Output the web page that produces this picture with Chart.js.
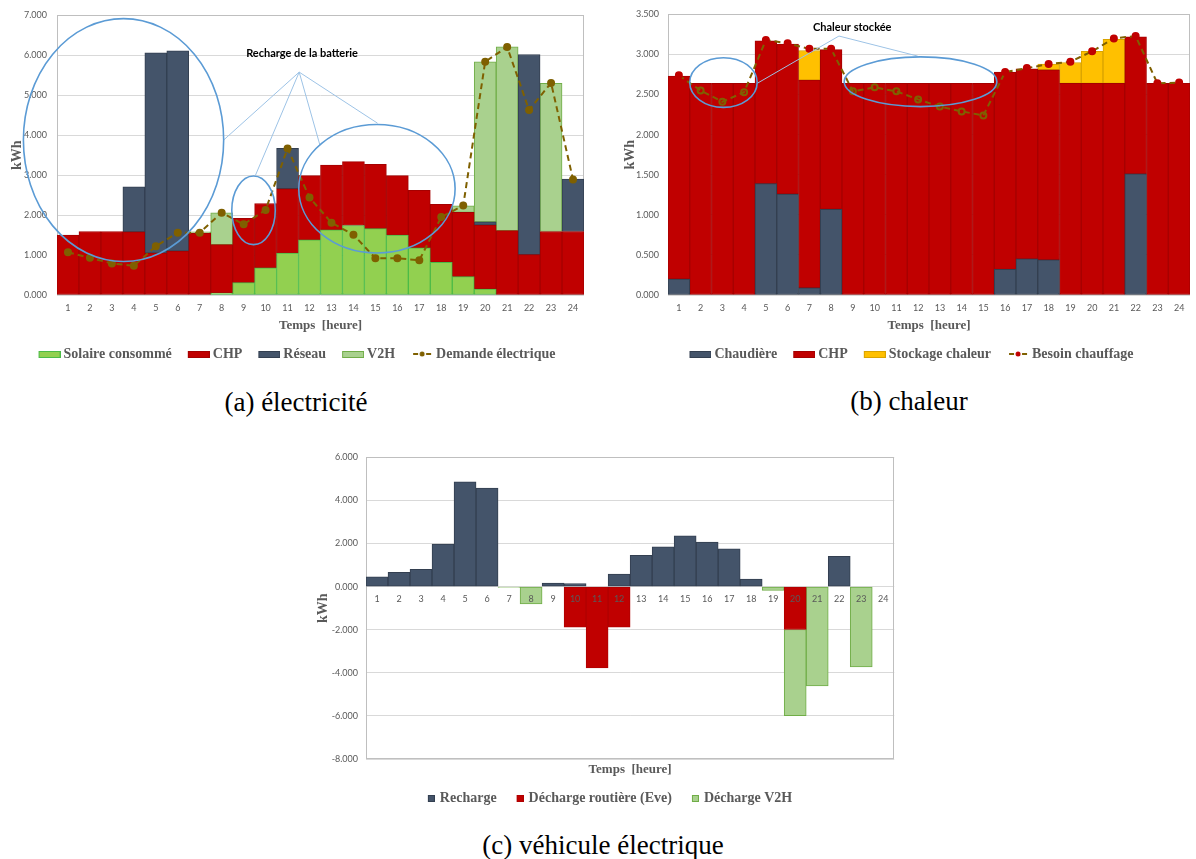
<!DOCTYPE html>
<html>
<head>
<meta charset="utf-8">
<title>Bilans horaires</title>
<script src="https://cdn.jsdelivr.net/npm/chart.js@4.4.1/dist/chart.umd.min.js"></script>
<style>
	body { margin: 0; background: #fff; }
	#page { position: relative; width: 1196px; height: 859px; overflow: hidden; }
	.frame { position: absolute; }
	.caption { position: absolute; width: 400px; text-align: center; font-family: "Liberation Serif", serif; font-size: 27px; line-height: 30px; color: #000; white-space: nowrap; }
</style>
</head>
<body>
<div id="page">
	<div class="frame" style="left:0;top:0;width:590px;height:371px"><canvas id="chartElec"></canvas></div>
	<div class="frame" style="left:622px;top:0;width:574px;height:371px"><canvas id="chartHeat"></canvas></div>
	<div class="frame" style="left:315px;top:444px;width:581px;height:371px"><canvas id="chartEv"></canvas></div>
	<div class="caption" style="left:96px;top:387px">(a) électricité</div>
	<div class="caption" style="left:709px;top:386px">(b) chaleur</div>
	<div class="caption" style="left:403px;top:830px">(c) véhicule électrique</div>
</div>
<script>
var hours = ['1','2','3','4','5','6','7','8','9','10','11','12','13','14','15','16','17','18','19','20','21','22','23','24'];

// (a) électricité, kWh
var solaireConsomme = [null,null,null,null,null,null,null,0.05,0.31,0.68,1.05,1.38,1.63,1.74,1.66,1.50,1.18,0.82,0.46,0.15,null,null,null,null];
var chpElec = [1.50,1.59,1.59,1.58,1.05,1.10,1.55,1.21,1.61,1.61,1.61,1.61,1.62,1.60,1.61,1.49,1.44,1.45,1.61,1.60,1.61,1.01,1.59,1.59];
var reseau = [null,null,null,1.13,5.01,5.01,null,null,null,null,1.01,null,null,null,null,null,null,null,null,0.08,null,5.01,null,1.31];
var v2hElec = [null,null,null,null,null,null,0.03,0.80,null,null,null,null,null,null,null,null,null,null,0.16,4.01,4.60,null,3.71,null];
var demandeElec = [1.07,0.93,0.79,0.73,1.22,1.56,1.56,2.06,1.77,2.13,3.67,2.44,1.81,1.51,0.92,0.92,0.87,1.95,2.24,5.84,6.21,4.63,5.31,2.89];

// (b) chaleur, kWh
var chaudiere = [0.20,null,null,null,1.39,1.26,0.09,1.07,null,null,null,null,null,null,null,0.32,0.45,0.44,null,null,null,1.51,null,null];
var chpChaleur = [2.53,2.64,2.64,2.64,1.78,1.87,2.59,1.99,2.64,2.64,2.64,2.64,2.64,2.64,2.64,2.46,2.37,2.37,2.64,2.64,2.64,1.71,2.64,2.64];
var stockageChaleur = [null,null,null,null,null,null,0.37,null,null,null,null,null,null,null,null,null,null,0.07,0.26,0.40,0.55,null,null,null];
var besoinChauffage = [2.74,2.55,2.41,2.53,3.18,3.14,3.07,3.07,2.54,2.59,2.54,2.44,2.35,2.29,2.24,2.78,2.83,2.88,2.91,3.04,3.20,3.23,2.64,2.65];

// (c) véhicule électrique, kWh
var recharge = [0.46,0.67,0.80,1.98,4.87,4.58,null,null,0.17,0.14,null,0.58,1.45,1.85,2.36,2.07,1.76,0.35,null,null,null,1.41,null,null];
var dechargeRoutiere = [null,null,null,null,null,null,null,null,null,-1.88,-3.77,-1.88,null,null,null,null,null,null,null,-1.99,null,null,null,null];
var dechargeV2H = [null,null,null,null,null,null,-0.03,-0.80,null,null,null,null,null,null,null,null,null,null,-0.18,-4.00,-4.61,null,-3.72,null];

// annotations, in axis units (category index, kWh)
var noteElec = {
	text: 'Recharge de la batterie', label: [10.66, 6.04], apex: [10.53, 5.58],
	ends: [[7.09, 3.88], [8.54, 3.00], [11.47, 3.76], [14.10, 4.30]],
	ellipses: [[2.53, 3.88, 4.56, 3.04], [8.45, 2.12, 0.99, 0.86], [14.07, 2.66, 3.56, 1.61]]
};
var noteHeat = {
	text: 'Chaleur stockée', label: [7.97, 3.34], apex: [7.36, 3.23],
	ends: [[3.60, 2.64], [10.98, 2.98]],
	ellipses: [[2.05, 2.65, 1.55, 0.31], [11.11, 2.66, 3.51, 0.31]]
};

var grey = '#595959';
var serifBold = {family: 'Liberation Serif', size: 14, weight: 'bold'};

Chart.defaults.font.family = 'Lato';
Chart.defaults.animation = false;
Chart.defaults.plugins.tooltip.enabled = false;

function swatch(kind, fill, stroke, boxW, imgW){
	var c = document.createElement('canvas');
	var h = 10;
	c.width = imgW; c.height = h;
	var g = c.getContext('2d');
	var x0 = imgW - boxW;
	if(kind == 'line'){
		g.strokeStyle = stroke; g.lineWidth = 2;
		g.beginPath();
		g.moveTo(x0+2, h/2); g.lineTo(x0+7, h/2);
		g.moveTo(x0+boxW-7, h/2); g.lineTo(x0+boxW-2, h/2);
		g.stroke();
		g.fillStyle = fill;
		g.beginPath(); g.arc(x0+boxW/2, h/2, 2.5, 0, Math.PI*2); g.fill();
	} else {
		var bh = kind == 'square' ? boxW : 7;
		var y0 = Math.round((h-bh)/2);
		g.fillStyle = fill; g.fillRect(x0, y0, boxW, bh);
		g.strokeStyle = stroke; g.lineWidth = 1; g.strokeRect(x0+0.5, y0+0.5, boxW-1, bh-1);
	}
	return c;
}

function legendOptions(items, boxWidth){
	return {
		position: 'bottom',
		labels: {
			usePointStyle: true, pointStyleWidth: boxWidth, boxHeight: 8, padding: 10,
			color: grey, font: serifBold,
			generateLabels: function(){
				return items.map(function(it, i){
					return {text: it[0], pointStyle: it[1], fontColor: grey, datasetIndex: i, hidden: false, lineWidth: 0};
				});
			}
		}
	};
}

function yAxis(min, max, step, width, pad, titlePad){
	return {
		min: min, max: max, stacked: true,
		ticks: {stepSize: step, padding: pad, color: grey, font: {size: 9}, callback: function(v){ return v.toFixed(3); }},
		grid: {color: '#D9D9D9', drawTicks: false},
		border: {display: false},
		title: {display: true, text: 'kWh', color: grey, font: serifBold, padding: {top: titlePad, bottom: 0}},
		afterFit: function(s){ s.width = width; }
	};
}

function timeTitle(bottomPad){
	return {display: true, text: 'Temps  [heure]', color: grey, font: {family: 'Liberation Serif', size: 13, weight: 'bold'}, padding: {top: 0, bottom: bottomPad}};
}

var plotFrame = {
	id: 'plotFrame',
	beforeDatasetsDraw: function(chart){
		var a = chart.chartArea, ctx = chart.ctx;
		ctx.save();
		ctx.strokeStyle = '#BFBFBF'; ctx.lineWidth = 1;
		ctx.strokeRect(Math.round(a.left)+0.5, Math.round(a.top)+0.5, Math.round(a.right-a.left)-1, Math.round(a.bottom-a.top)-1);
		ctx.restore();
	}
};

function calloutPlugin(note){
	return {
		id: 'callouts',
		afterDatasetsDraw: function(chart){
			var xs = chart.scales.x, ys = chart.scales.y, ctx = chart.ctx;
			ctx.save();
			ctx.strokeStyle = '#9DC3E6'; ctx.lineWidth = 1;
			var ax = xs.getPixelForValue(note.apex[0]), ay = ys.getPixelForValue(note.apex[1]);
			note.ends.forEach(function(e){
				ctx.beginPath(); ctx.moveTo(ax, ay);
				ctx.lineTo(xs.getPixelForValue(e[0]), ys.getPixelForValue(e[1]));
				ctx.stroke();
			});
			ctx.strokeStyle = '#5B9BD5'; ctx.lineWidth = 1.6;
			note.ellipses.forEach(function(e){
				var cx = xs.getPixelForValue(e[0]), cy = ys.getPixelForValue(e[1]);
				var rx = Math.abs(xs.getPixelForValue(e[0]+e[2]) - cx);
				var ry = Math.abs(ys.getPixelForValue(e[1]+e[3]) - cy);
				ctx.beginPath(); ctx.ellipse(cx, cy, rx, ry, 0, 0, Math.PI*2); ctx.stroke();
			});
			ctx.fillStyle = '#000'; ctx.font = 'bold 11px Lato';
			ctx.textAlign = 'center'; ctx.textBaseline = 'middle';
			ctx.fillText(note.text, xs.getPixelForValue(note.label[0]), ys.getPixelForValue(note.label[1]));
			ctx.restore();
		}
	};
}

var barDefaults = {categoryPercentage: 1, barPercentage: 1, borderWidth: 1, borderSkipped: false};

function bar(label, data, fill, stroke){
	return {type: 'bar', label: label, data: data, backgroundColor: fill, borderColor: stroke, stack: 'supply', order: 1};
}

function xHours(){
	return {
		stacked: true,
		grid: {display: false, drawTicks: false}, border: {display: false},
		ticks: {color: grey, font: {size: 9}, padding: 7.5, autoSkip: false, maxRotation: 0},
		title: timeTitle(4),
		afterFit: function(s){ s.height = 42; }
	};
}

// (a) électricité
new Chart(document.getElementById('chartElec'), {
	data: {
		labels: hours,
		datasets: [
			{type: 'line', label: 'Demande électrique', data: demandeElec, borderColor: '#7F6000', borderWidth: 2, borderDash: [6, 4],
				pointRadius: 3, pointBackgroundColor: '#7F6000', pointBorderColor: '#7F6000', stack: 'demand', order: 0, tension: 0},
			bar('Solaire consommé', solaireConsomme, '#92D050', '#4CBB47'),
			bar('CHP', chpElec, '#C00000', '#A50000'),
			bar('Réseau', reseau, '#44546A', '#333F50'),
			bar('V2H', v2hElec, '#A9D18E', '#70AD47')
		]
	},
	options: {
		responsive: true, maintainAspectRatio: false,
		layout: {padding: {top: 10, right: 2, left: 0, bottom: 0}},
		datasets: {bar: barDefaults},
		scales: {x: xHours(), y: yAxis(0, 7, 1, 57, 10, 8.5)},
		plugins: {
			legend: legendOptions([
				['Solaire consommé', swatch('box', '#92D050', '#4CBB47', 22, 32)],
				['CHP', swatch('box', '#C00000', '#A50000', 22, 32)],
				['Réseau', swatch('box', '#44546A', '#333F50', 22, 32)],
				['V2H', swatch('box', '#A9D18E', '#70AD47', 22, 32)],
				['Demande électrique', swatch('line', '#7F6000', '#7F6000', 22, 32)]
			], 24)
		}
	},
	plugins: [plotFrame, calloutPlugin(noteElec)]
});

// (b) chaleur
new Chart(document.getElementById('chartHeat'), {
	data: {
		labels: hours,
		datasets: [
			{type: 'line', label: 'Besoin chauffage', data: besoinChauffage, borderColor: '#7F6000', borderWidth: 2, borderDash: [6, 4],
				pointRadius: 3, stack: 'demand', order: 0, tension: 0,
				pointBackgroundColor: function(c){
					var i = c.dataIndex;
					var supply = (chaudiere[i] || 0) + (chpChaleur[i] || 0) + (stockageChaleur[i] || 0);
					return besoinChauffage[i] < supply - 0.03 ? 'rgba(0,0,0,0)' : '#C00000';
				},
				pointBorderColor: function(c){
					var i = c.dataIndex;
					var supply = (chaudiere[i] || 0) + (chpChaleur[i] || 0) + (stockageChaleur[i] || 0);
					return besoinChauffage[i] < supply - 0.03 ? '#7F6000' : '#C00000';
				}},
			bar('Chaudière', chaudiere, '#44546A', '#333F50'),
			bar('CHP', chpChaleur, '#C00000', '#A50000'),
			bar('Stockage chaleur', stockageChaleur, '#FFC000', '#D9A300')
		]
	},
	options: {
		responsive: true, maintainAspectRatio: false,
		layout: {padding: {top: 10, right: 1, left: 0, bottom: 0}},
		datasets: {bar: barDefaults},
		scales: {x: xHours(), y: yAxis(0, 3.5, 0.5, 46, 9, 0)},
		plugins: {
			legend: legendOptions([
				['Chaudière', swatch('box', '#44546A', '#333F50', 22, 32)],
				['CHP', swatch('box', '#C00000', '#A50000', 22, 32)],
				['Stockage chaleur', swatch('box', '#FFC000', '#D9A300', 22, 32)],
				['Besoin chauffage', swatch('line', '#C00000', '#7F6000', 22, 32)]
			], 24)
		}
	},
	plugins: [plotFrame, calloutPlugin(noteHeat)]
});

// (c) véhicule électrique
new Chart(document.getElementById('chartEv'), {
	type: 'bar',
	data: {
		labels: hours,
		datasets: [
			{label: 'Recharge', data: recharge, backgroundColor: '#44546A', borderColor: '#333F50'},
			{label: 'Décharge routière (Eve)', data: dechargeRoutiere, backgroundColor: '#C00000', borderColor: '#B00000'},
			{label: 'Décharge V2H', data: dechargeV2H, backgroundColor: '#A9D18E', borderColor: '#70AD47'}
		]
	},
	options: {
		responsive: true, maintainAspectRatio: false,
		layout: {padding: {top: 10, right: 1, left: 0, bottom: 0}},
		datasets: {bar: barDefaults},
		scales: {
			x: {
				position: {y: 0}, stacked: true, z: 1,
				grid: {display: false, drawTicks: false}, border: {display: false},
				ticks: {z: 1, color: grey, font: {size: 9}, padding: 7.5, autoSkip: false, maxRotation: 0},
				afterFit: function(s){ s.height = 0; }
			},
			x2: {
				type: 'category', labels: hours, position: 'bottom',
				grid: {display: false, drawTicks: false}, border: {display: false}, ticks: {display: false},
				title: timeTitle(3.5),
				afterFit: function(s){ s.height = 22; }
			},
			y: yAxis(-8, 6, 2, 51, 8, 0)
		},
		plugins: {
			legend: legendOptions([
				['Recharge', swatch('square', '#44546A', '#333F50', 7, 19)],
				['Décharge routière (Eve)', swatch('square', '#C00000', '#B00000', 7, 19)],
				['Décharge V2H', swatch('square', '#A9D18E', '#70AD47', 7, 19)]
			], 15)
		}
	},
	plugins: [plotFrame]
});
</script>
</body>
</html>
